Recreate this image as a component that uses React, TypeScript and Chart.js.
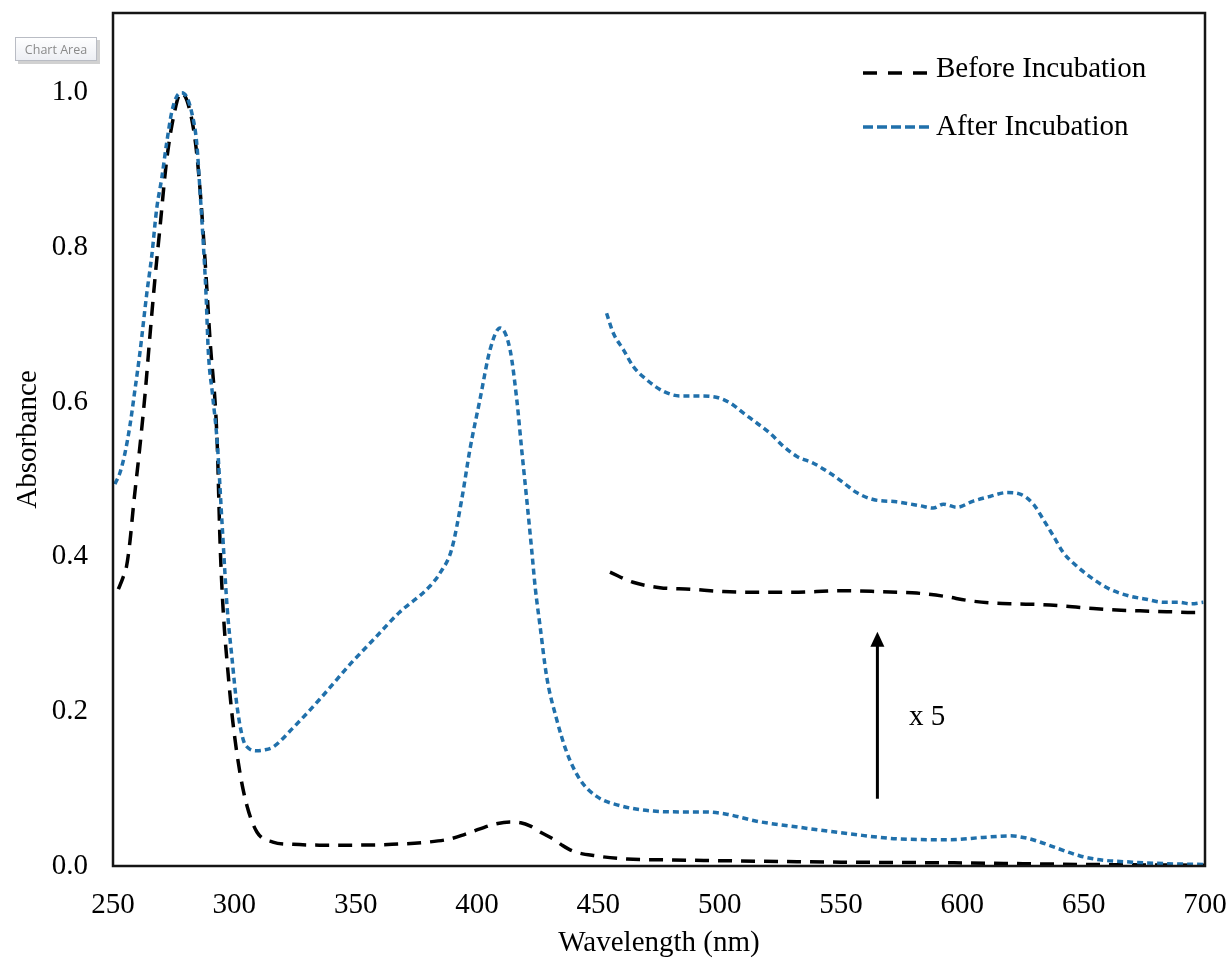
import React, { useEffect, useRef } from "react";
import { Chart, registerables } from "chart.js";

Chart.register(...registerables);

// ---- Data ----
const beforeWl = [252.2, 254, 255.6, 257, 258.4, 261.1, 263.2, 265.2, 267.3, 269.4, 272, 275, 278, 281, 284, 286, 288, 290, 292.9, 294.1, 295.3, 297.4, 299.4, 302.3, 305.2, 309.3, 315.9, 324.2, 335, 350, 365, 380, 388.9, 395, 401.2, 407, 413.6, 418, 421.8, 426, 431.4, 435, 439.7, 449.3, 461.7, 480.8, 508.4, 550, 600, 650, 700];
const beforeAbs = [0.358, 0.372, 0.388, 0.42, 0.465, 0.543, 0.61, 0.685, 0.76, 0.827, 0.91, 0.97, 1.0, 0.985, 0.935, 0.87, 0.78, 0.68, 0.55, 0.42, 0.336, 0.25, 0.186, 0.121, 0.078, 0.044, 0.031, 0.028, 0.027, 0.027, 0.028, 0.031, 0.035, 0.041, 0.048, 0.054, 0.057, 0.056, 0.052, 0.044, 0.035, 0.027, 0.019, 0.013, 0.009, 0.0078, 0.0065, 0.005, 0.004, 0.002, 0.001];

const afterWl = [250.8, 253, 255, 257, 259, 261.1, 263.9, 266, 268, 270.1, 272.1, 274.2, 276.2, 278.3, 280.3, 282.4, 284.5, 285.9, 287.2, 288.3, 289.3, 291, 292.9, 295, 297, 299, 301.1, 303.6, 306, 309.3, 312, 316, 324, 335, 348, 358, 368, 380, 385, 389.6, 393.7, 397.1, 401.2, 405.4, 409.5, 413.6, 416.4, 418.4, 420.5, 422.5, 424, 426, 428.7, 432.8, 437, 442.4, 449.3, 459, 472.7, 483.7, 494.7, 502.9, 515.2, 533, 555, 574, 595, 608.5, 619.6, 626.6, 632, 640, 648.5, 656.7, 670, 684, 700];
const afterAbs = [0.494, 0.51, 0.535, 0.57, 0.615, 0.664, 0.74, 0.79, 0.85, 0.89, 0.935, 0.975, 0.995, 1.0, 0.995, 0.975, 0.935, 0.871, 0.806, 0.742, 0.664, 0.61, 0.55, 0.44, 0.336, 0.27, 0.207, 0.164, 0.152, 0.149, 0.15, 0.154, 0.178, 0.215, 0.262, 0.295, 0.328, 0.36, 0.38, 0.41, 0.474, 0.539, 0.603, 0.668, 0.696, 0.668, 0.603, 0.539, 0.474, 0.41, 0.36, 0.31, 0.245, 0.19, 0.147, 0.112, 0.09, 0.078, 0.071, 0.07, 0.07, 0.067, 0.058, 0.05, 0.041, 0.035, 0.034, 0.037, 0.039, 0.036, 0.031, 0.022, 0.013, 0.008, 0.005, 0.003, 0.002];

const beforeX5Wl = [454.8, 464.3, 475.4, 487.8, 501.4, 513.7, 530, 550, 565, 574.3, 581.2, 592.2, 603.2, 612.8, 622.4, 633.4, 643, 654, 663.6, 673.2, 684.2, 695.1, 700];
const beforeX5Abs = [0.38, 0.367, 0.36, 0.358, 0.355, 0.354, 0.354, 0.356, 0.355, 0.354, 0.353, 0.349, 0.343, 0.34, 0.339, 0.338, 0.336, 0.333, 0.331, 0.33, 0.329, 0.328, 0.328];

const afterX5Wl = [453.4, 456.2, 460.3, 464.4, 469.9, 476.8, 483.7, 490.5, 497.4, 504.3, 509.7, 515.3, 520.7, 526.2, 531.7, 538.6, 545.5, 550.9, 556.4, 563.3, 572.9, 582.6, 588, 592.2, 597.7, 604.5, 611.4, 618.3, 623.8, 629.3, 633.4, 637.5, 641.7, 647.1, 654, 660.8, 669.1, 675.9, 682.8, 689.7, 693.8, 699.3];
const afterX5Abs = [0.715, 0.689, 0.668, 0.646, 0.629, 0.614, 0.608, 0.608, 0.607, 0.599, 0.586, 0.573, 0.56, 0.543, 0.53, 0.521, 0.508, 0.496, 0.483, 0.474, 0.471, 0.466, 0.463, 0.468, 0.464, 0.472, 0.478, 0.483, 0.481, 0.468, 0.448, 0.427, 0.405, 0.388, 0.371, 0.358, 0.349, 0.345, 0.341, 0.341, 0.339, 0.341];

const yTickValues = [0, 0.2, 0.4, 0.6, 0.8, 1.0];
const legendLabels = ["Before Incubation", "After Incubation"];

// annotation (arrow and "x 5") in data units
const arrowWl = 565;
const arrowFrom = 0.087;
const arrowTo = 0.303;
const scaleLabel = "x 5";
const scaleLabelWl = 578;
const scaleLabelAbs = 0.192;

const BLACK = "#000000";
const BLUE = "#2070ab";
const SERIF = '"Liberation Serif", "Times New Roman", serif';
const FS = 29;

const toPts = (xs: number[], ys: number[]) => xs.map((x, i) => ({ x, y: ys[i] }));

const decorPlugin = {
  id: "decor",
  afterDraw(chart: any) {
    const { ctx, chartArea: a, scales } = chart;
    const xs = scales.x;
    const ys = scales.y;
    ctx.save();
    // plot frame
    ctx.setLineDash([]);
    ctx.lineWidth = 2.5;
    ctx.strokeStyle = "#151515";
    ctx.strokeRect(a.left, a.top, a.right - a.left, a.bottom - a.top);

    // legend
    const lx0 = a.right - 342;
    const lx1 = a.right - 275;
    const tx = a.right - 269;
    ctx.font = `${FS}px ${SERIF}`;
    ctx.textBaseline = "middle";
    ctx.textAlign = "left";
    ctx.fillStyle = "#000";
    // before
    ctx.lineWidth = 3.5;
    ctx.strokeStyle = BLACK;
    ctx.setLineDash([14, 11]);
    ctx.beginPath();
    ctx.moveTo(lx0, a.top + 60);
    ctx.lineTo(lx1, a.top + 60);
    ctx.stroke();
    ctx.fillText(legendLabels[0], tx, a.top + 56);
    // after
    ctx.strokeStyle = BLUE;
    ctx.setLineDash([10, 4]);
    ctx.beginPath();
    ctx.moveTo(lx0, a.top + 114);
    ctx.lineTo(lx1, a.top + 114);
    ctx.stroke();
    ctx.fillText(legendLabels[1], tx, a.top + 114);

    // arrow
    const ax = xs.getPixelForValue(arrowWl);
    const y0 = ys.getPixelForValue(arrowFrom);
    const y1 = ys.getPixelForValue(arrowTo);
    ctx.setLineDash([]);
    ctx.strokeStyle = "#000";
    ctx.lineWidth = 3;
    ctx.beginPath();
    ctx.moveTo(ax, y0);
    ctx.lineTo(ax, y1 + 12);
    ctx.stroke();
    ctx.fillStyle = "#000";
    ctx.beginPath();
    ctx.moveTo(ax, y1);
    ctx.lineTo(ax - 7, y1 + 15);
    ctx.lineTo(ax + 7, y1 + 15);
    ctx.closePath();
    ctx.fill();
    ctx.font = `${FS}px ${SERIF}`;
    ctx.fillText(scaleLabel, xs.getPixelForValue(scaleLabelWl), ys.getPixelForValue(scaleLabelAbs));

    // "Chart Area" hover tag
    const bx = 15, by = 37, bw = 82, bh = 24;
    ctx.fillStyle = "rgba(0,0,0,0.18)";
    ctx.fillRect(bx + 3, by + 3, bw, bh);
    const g = ctx.createLinearGradient(0, by, 0, by + bh);
    g.addColorStop(0, "#ffffff");
    g.addColorStop(1, "#eceef3");
    ctx.fillStyle = g;
    ctx.fillRect(bx, by, bw, bh);
    ctx.strokeStyle = "#b9bcc4";
    ctx.lineWidth = 1;
    ctx.strokeRect(bx + 0.5, by + 0.5, bw - 1, bh - 1);
    ctx.fillStyle = "#8a8a8a";
    ctx.font = '12.5px "Open Sans", "Noto Sans", sans-serif';
    ctx.textAlign = "center";
    ctx.textBaseline = "middle";
    ctx.fillText("Chart Area", bx + bw / 2, by + bh / 2 + 1);
    ctx.restore();
  },
};

export default function App() {
  const ref = useRef<HTMLCanvasElement | null>(null);

  useEffect(() => {
    if (!ref.current) return;
    const lineBase = {
      pointRadius: 0,
      borderWidth: 3.5,
      fill: false,
      cubicInterpolationMode: "monotone" as const,
      borderCapStyle: "butt" as const,
    };
    const chart = new Chart(ref.current, {
      type: "line",
      data: {
        datasets: [
          { ...lineBase, label: legendLabels[1], data: toPts(afterWl, afterAbs), borderColor: BLUE, borderDash: [6, 4] },
          { ...lineBase, label: legendLabels[0], data: toPts(beforeWl, beforeAbs), borderColor: BLACK, borderDash: [14, 9] },
          { ...lineBase, label: legendLabels[1] + " x5", data: toPts(afterX5Wl, afterX5Abs), borderColor: BLUE, borderDash: [6, 4] },
          { ...lineBase, label: legendLabels[0] + " x5", data: toPts(beforeX5Wl, beforeX5Abs), borderColor: BLACK, borderDash: [14, 9] },
        ],
      },
      options: {
        responsive: false,
        animation: false,
        parsing: false as any,
        normalized: true,
        layout: { autoPadding: false, padding: { left: 8, top: 13, right: 27, bottom: 7 } } as any,
        plugins: { legend: { display: false }, tooltip: { enabled: false } },
        scales: {
          x: {
            type: "linear",
            min: 250,
            max: 700,
            grid: { display: false, drawTicks: false },
            border: { display: false },
            ticks: { stepSize: 50, padding: 22, color: "#000", font: { family: SERIF, size: FS }, maxRotation: 0 },
            title: { display: true, text: "Wavelength (nm)", color: "#000", font: { family: SERIF, size: FS }, padding: 0 },
            afterFit: (s: any) => {
              s.height = 95;
              s.paddingLeft = 0;
              s.paddingRight = 0;
            },
          },
          y: {
            type: "linear",
            min: 0,
            max: 1.1033,
            grid: { display: false, drawTicks: false },
            border: { display: false },
            afterBuildTicks: (s: any) => {
              s.ticks = yTickValues.map((v) => ({ value: v }));
            },
            ticks: {
              padding: 25,
              color: "#000",
              font: { family: SERIF, size: FS },
              callback: (v: any) => Number(v).toFixed(1),
            },
            title: { display: true, text: "Absorbance", color: "#000", font: { family: SERIF, size: FS }, padding: { top: 3, bottom: 0 } },
            afterFit: (s: any) => {
              s.width = 105;
              s.paddingTop = 0;
              s.paddingBottom = 0;
            },
          },
        },
      },
      plugins: [decorPlugin],
    });
    return () => chart.destroy();
  }, []);

  return (
    <div style={{ position: "absolute", left: 0, top: 0, width: 1232, height: 968, background: "#fff" }}>
      <canvas ref={ref} width={1232} height={968} style={{ display: "block" }} />
    </div>
  );
}
